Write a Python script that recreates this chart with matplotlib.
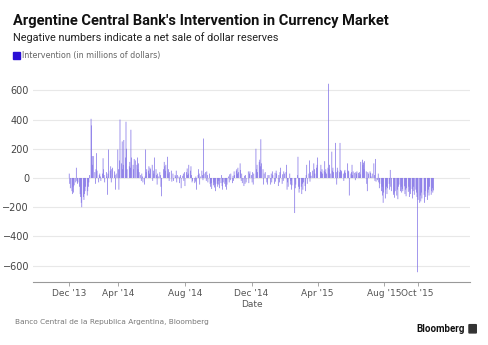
import matplotlib
matplotlib.use('Agg')
import matplotlib.pyplot as plt
import matplotlib.dates as mdates
from matplotlib.patches import FancyBboxPatch
import pandas as pd

### Data: daily net intervention, millions of USD (one value per weekday)

jan14 = [30, -40, -70, -90, -110, -60, -100, -50, -30, 70, -20, -40, -30, -60, -110, -130, -170, -200, -130, -150, -110, -90, -60]
feb14 = [-120, -90, -60, -30, 20, 405, 360, 150, 90, 150, 40, -40, 60, 170, 50, -30, 20, 30, 10, -20]
mar14 = [30, 135, 60, 20, -30, 40, 10, -115, 30, 195, 50, 80, -30, 60, 70, 0, 45, 20, -80, 30, 195]
apr14 = [60, -80, 120, 400, 100, 250, 60, 90, 260, 140, 385, 200, 60, 0, 80, 110, 70, 330, 140, 90, 60, 130]
may14 = [0, 120, 90, 140, 60, 100, 40, 20, -20, 30, 10, -30, -45, 10, 195, 40, 60, 50, 80, 30, 70, 60]
jun14 = [90, -20, 50, 30, 140, 60, 20, -45, 30, 10, 40, 20, -60, -125, 0, 60, 110, 80, 50, 90, 145]
jul14 = [30, 60, -20, 40, 50, -25, 0, 30, -20, 20, 10, 50, -30, 20, 10, -35, 5, 20, -70, 15, 30, -20, 40]
aug14 = [-55, 40, 65, 20, 30, 90, 50, 80, 20, -30, -20, 0, -35, -25, 10, -80, 20, 60, 30, -45, 10]
sep14 = [50, 20, -15, 270, 30, 40, -20, 45, 20, -30, 30, -40, -60, -35, -75, -50, -30, -65, -45, -90, -40, -60]
oct14 = [-45, -20, -70, -35, 20, -55, -80, -30, -40, -60, -25, -80, -45, 10, -30, 25, -15, 30, -35, 15, -20, 45, 20]
nov14 = [50, 60, 30, 70, 40, 100, 55, -20, 30, -35, -55, 15, -40, 20, -30, 0, 45, -35, 30, 45]
dec14 = [20, -30, 40, -45, 30, 0, 200, 60, 90, 40, 110, 125, 80, 265, 100, 60, -45, 30, 0, 40, -30, -45, 20]
jan15 = [0, 20, -45, 30, -30, 45, 20, -40, 35, -25, 50, 30, -55, 20, -30, 40, 70, -40, 25, -20, 45, 30]
feb15 = [40, 90, -80, -30, -60, 30, -45, -20, -80, -50, 0, 0, -240, -70, -45, 20, 145, -60, -100, -75]
mar15 = [-60, -110, -40, -80, -30, -55, -90, 20, 90, -40, 30, 120, -25, 40, 15, 50, 0, 100, 60, 30, 70, 90]
apr15 = [140, 0, 0, 45, 90, 40, 60, 30, 50, 115, 40, 60, 30, 70, 645, 60, 90, 30, 180, 50, 70, 40]
may15 = [0, 240, 40, -45, 70, 50, 40, 240, 55, 40, 50, 30, -20, 45, 55, 35, 0, 100, 50, 45, -120]
jun15 = [30, 40, 90, 20, 45, 35, -15, 40, 30, 45, 35, 10, 40, 25, 110, 125, 90, 105, 60, 115, 45, -40]
jul15 = [-90, 40, 30, 45, 35, 10, 0, 30, 100, 20, -20, 130, -25, -15, 30, -30, -70, -40, -90, -60, -120, -170, -100]
aug15 = [-140, -80, -60, -110, -70, -40, -80, 55, -60, -90, 0, -115, -100, -135, -90, -120, -80, -145, -60, -45, -90]
sep15 = [-60, -100, -75, -90, -57, -110, -80, -125, -70, -95, -60, -130, -85, -110, -75, -140, -90, -60, -115, -80, -100, -130]
oct15 = [-645, -150, -170, -120, -160, -100, -140, 0, -115, -170, -90, -130, -150, -100, -80, -120, -60, -115, -90, -70, -100, -85]

monthly = [jan14, feb14, mar14, apr14, may14, jun14, jul14, aug14, sep14, oct14, nov14,
           dec14, jan15, feb15, mar15, apr15, may15, jun15, jul15, aug15, sep15, oct15]

tick_dates = ['2014-01-01', '2014-04-01', '2014-08-01', '2014-12-01',
              '2015-04-01', '2015-08-01', '2015-10-01']
tick_labels = ["Dec '13", "Apr '14", "Aug '14", "Dec '14", "Apr '15", "Aug '15", "Oct '15"]

### Build the daily series

dates, values = [], []
for start, vals in zip(pd.date_range('2014-01-01', periods=len(monthly), freq='MS'), monthly):
    days = pd.bdate_range(start, start + pd.offsets.MonthEnd(0))
    for d, v in zip(days, vals):
        dates.append(d)
        values.append(v)

### Figure

fig = plt.figure(figsize=(4.88, 3.45), dpi=100)
ax = fig.add_axes([0.068, 0.1835, 0.895, 0.597])

ax.bar(dates, values, width=1.3, color='#7f6fe6', linewidth=0, zorder=2, snap=False)

ax.set_xlim(pd.Timestamp('2013-10-27'), pd.Timestamp('2016-01-05'))
ax.set_ylim(-710, 700)

ax.set_yticks([-600, -400, -200, 0, 200, 400, 600])
ax.yaxis.grid(True, color='#e8e8e8', linewidth=0.8, zorder=0)
ax.set_axisbelow(True)

ax.set_xticks([mdates.date2num(pd.Timestamp(t)) for t in tick_dates])
ax.set_xticklabels(tick_labels)

for s in ['top', 'right', 'left']:
    ax.spines[s].set_visible(False)
ax.spines['bottom'].set_color('#999999')
ax.spines['bottom'].set_linewidth(0.8)

ax.tick_params('y', length=0, labelsize=7, labelcolor='#444444', pad=3)
ax.tick_params('x', length=3, width=0.6, color='#999999', labelsize=6.5,
               labelcolor='#555555', pad=2)

ax.set_xlabel('Date', size=6.5, color='#555555', labelpad=2)

### Titles, legend and footer

fig.text(0.027, 0.938, "Argentine Central Bank's Intervention in Currency Market",
         family='Roboto', weight='bold', size=10.5, color='#111111', va='center')
fig.text(0.027, 0.89, 'Negative numbers indicate a net sale of dollar reserves',
         family='Roboto', size=7.8, color='#222222', va='center')
fig.add_artist(plt.Rectangle((0.027, 0.828), 0.014, 0.021, transform=fig.transFigure,
                             color='#2a0fd6'))
fig.text(0.045, 0.838, 'Intervention (in millions of dollars)',
         size=5.8, color='#666666', va='center')

fig.text(0.031, 0.067, 'Banco Central de la Republica Argentina, Bloomberg',
         size=5.3, color='#777777', va='center')
fig.text(0.952, 0.047, 'Bloomberg', family='Roboto', weight='bold', size=7.0,
         color='#111111', ha='right', va='center')
fig.add_artist(FancyBboxPatch((0.962, 0.036), 0.013, 0.022, transform=fig.transFigure,
                              boxstyle='round,pad=0.001', color='#333333'))

# Save figure
fig.savefig('out.png', dpi=100)
plt.close(fig)
